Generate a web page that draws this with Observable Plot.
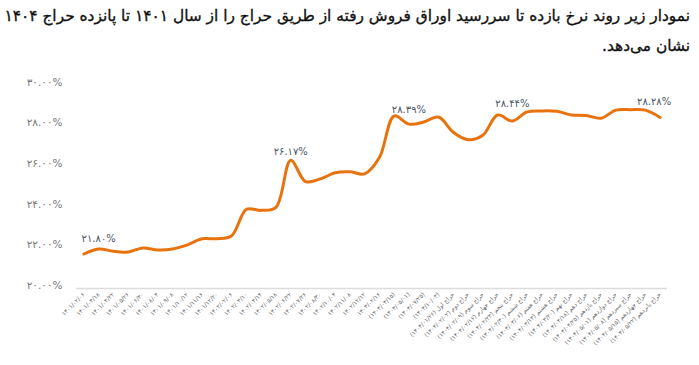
<!DOCTYPE html>
<html><head><meta charset="utf-8">
<script src="https://cdn.jsdelivr.net/npm/d3@7"></script>
<script src="https://cdn.jsdelivr.net/npm/@observablehq/plot@0.6"></script>
<style>
body{margin:0;background:#fff;font-family:"DejaVu Sans",sans-serif;}
#title{direction:rtl;text-align:right;font-size:15.4px;line-height:30px;padding:1px 9px 0 0;height:59px;color:#111;white-space:nowrap;overflow:hidden;-webkit-text-stroke:0.35px #111;}
#chart svg{display:block;}
</style></head><body>
<div id="title">نمودار زیر روند نرخ بازده تا سررسید اوراق فروش رفته از طریق حراج را از سال ۱۴۰۱ تا پانزده حراج ۱۴۰۴<br>نشان می‌دهد.</div>
<div id="chart"></div>
<script>
const xLabels = [
  "۱۴۰۱/۰۲/۰۶","۱۴۰۱/۰۳/۱۸","۱۴۰۱/۰۴/۲۲","۱۴۰۱/۰۵/۲۶","۱۴۰۱/۰۶/۳۰","۱۴۰۱/۰۸/۰۴","۱۴۰۱/۰۹/۰۸",
  "۱۴۰۱/۱۰/۱۲","۱۴۰۱/۱۱/۱۶","۱۴۰۱/۱۲/۲۰","۱۴۰۲/۰۲/۰۶","۱۴۰۲/۰۳/۱۰","۱۴۰۲/۰۴/۱۴","۱۴۰۲/۰۵/۱۸",
  "۱۴۰۲/۰۶/۲۲","۱۴۰۲/۰۷/۲۶","۱۴۰۲/۰۸/۳۰","۱۴۰۲/۱۰/۰۴","۱۴۰۲/۱۱/۰۸","۱۴۰۲/۱۲/۱۲","۱۴۰۳/۰۲/۱۶",
  "(۱۴۰۳/۰۳/۱۵)","(۱۴۰۳/۰۵/۰۱)","(۱۴۰۳/۰۷/۲۵)","(۱۴۰۳/۱۰/۰۳)",
  "حراج اول (۱۴۰۴/۰۱/۲۶)","حراج دوم (۱۴۰۴/۰۲/۰۲)","حراج سوم (۱۴۰۴/۰۲/۰۹)","حراج چهارم (۱۴۰۴/۰۲/۱۶)",
  "حراج پنجم (۱۴۰۴/۰۲/۲۳)","حراج ششم (۱۴۰۴/۰۲/۳۰)","حراج هفتم (۱۴۰۴/۰۳/۰۶)","حراج هشتم (۱۴۰۴/۰۳/۱۳)",
  "حراج نهم (۱۴۰۴/۰۳/۲۰)","حراج دهم (۱۴۰۴/۰۴/۱۸)","حراج یازدهم (۱۴۰۴/۰۴/۲۵)","حراج دوازدهم (۱۴۰۴/۰۵/۰۱)",
  "حراج سیزدهم (۱۴۰۴/۰۵/۰۸)","حراج چهاردهم (۱۴۰۴/۰۵/۱۵)","حراج پانزدهم (۱۴۰۴/۰۵/۲۲)"
];
const ytm = [
  21.55,21.80,21.68,21.65,21.85,21.75,21.80,22.00,22.30,22.30,
  22.45,23.75,23.70,23.85,26.17,25.12,25.25,25.55,25.60,25.50,
  26.30,28.35,27.95,28.05,28.30,27.55,27.18,27.40,28.40,28.10,
  28.55,28.60,28.58,28.40,28.37,28.24,28.64,28.66,28.64,28.28
];
const yTicks = [20,22,24,26,28,30];
const yTickLabels = ["۲۰.۰۰%","۲۲.۰۰%","۲۴.۰۰%","۲۶.۰۰%","۲۸.۰۰%","۳۰.۰۰%"];
const annIndex = [1,14,22,29,39];
const annValue = [21.80,26.17,28.39,28.44,28.28];
const annText = ["۲۱.۸۰%","۲۶.۱۷%","۲۸.۳۹%","۲۸.۴۴%","۲۸.۲۸%"];

const data = ytm.map((v,i)=>({i, v}));
const ann = annIndex.map((i,k)=>({i, v:annValue[k], t:annText[k], k}));

const chart = Plot.plot({
  width: 699, height: 305,
  marginLeft: 76, marginRight: 32, marginTop: 22, marginBottom: 77,
  style: {fontFamily: "DejaVu Sans, sans-serif", background: "#fff"},
  x: {domain: [-0.5, 39.5]},
  y: {domain: [19.85, 30]},
  marks: [
    Plot.ruleY([19.85], {stroke: "#dcdcdc", strokeWidth: 1.5}),
    Plot.axisY({ticks: yTicks, tickFormat: d => yTickLabels[yTicks.indexOf(d)], tickSize: 0, tickPadding: 14, fontSize: 10.5, fill: "#777", label: null}),
    Plot.axisX({ticks: d3.range(xLabels.length), tickFormat: i => xLabels[i], tickRotate: -45, tickSize: 0, tickPadding: 5, fontSize: 6, fill: "#666", label: null}),
    Plot.line(data, {x: "i", y: "v", stroke: "#E8730E", strokeWidth: 3, curve: "catmull-rom"}),
    Plot.text(ann.filter(d => d.k === 0 || d.k === 3), {x: "i", y: "v", text: "t", dy: -10, fontSize: 10, fill: "#4a5566"}),
    Plot.text(ann.filter(d => d.k === 1), {x: "i", y: "v", text: "t", dy: -8, fontSize: 10, fill: "#4a5566"}),
    Plot.text(ann.filter(d => d.k === 2), {x: "i", y: "v", text: "t", dy: -5, fontSize: 10, fill: "#4a5566"}),
    Plot.text(ann.filter(d => d.k === 4), {x: "i", y: "v", text: "t", dx: -6, dy: -16, fontSize: 10, fill: "#4a5566"})
  ]
});
document.getElementById("chart").appendChild(chart);
</script>
</body></html>
